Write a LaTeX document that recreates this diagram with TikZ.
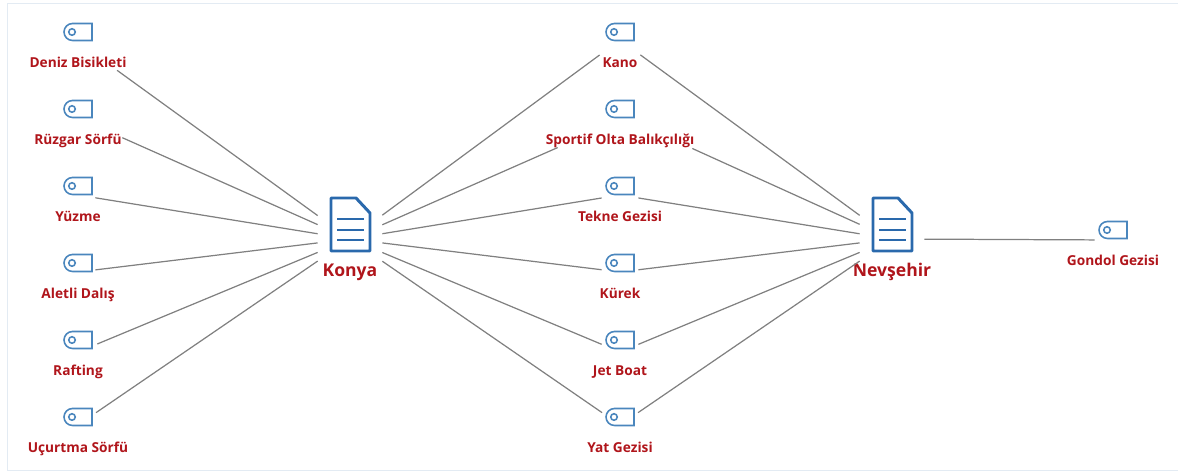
\documentclass[tikz,border=0pt]{standalone}
\usepackage{fontspec}
\setmainfont{Open Sans}
\usepackage{tikz}
\usetikzlibrary{shapes.misc, calc, positioning}
\definecolor{tagblue}{HTML}{4A86BD}
\definecolor{docblue}{HTML}{2A69AC}
\definecolor{namered}{HTML}{B0151B}
\definecolor{linkgray}{HTML}{808080}
\definecolor{framegray}{HTML}{E3EBF3}
\tikzstyle{tag} = [rounded rectangle, rounded rectangle right arc=none, draw=tagblue, line width=0.9pt, minimum width=0.56cm, minimum height=0.34cm, inner sep=0pt, path picture={\draw [tagblue, line width=0.9pt] ($(path picture bounding box.west)+(0.16cm,0)$) circle (0.065cm);}]
\tikzstyle{itemname} = [font=\bfseries\fontsize{7.8}{9}\selectfont, text=namered, inner sep=0pt, text height=8.2pt, text depth=1.4pt]
\tikzstyle{hubname} = [font=\bfseries\fontsize{10}{12}\selectfont, text=namered, inner sep=0pt]
\tikzstyle{area} = [rectangle, inner sep=0pt]
\tikzstyle{hub} = [area, minimum width=1.28cm, minimum height=1.28cm]
\tikzstyle{link} = [linkgray, line width=0.7pt]
\tikzstyle{doc} = [docblue, line width=1.7pt]
\begin{document}
\begin{tikzpicture}[x=0.02cm, y=-0.02cm]
	\useasboundingbox (0,0) rectangle (1178,472);
	\draw [framegray, line width=0.5pt] (1178,3) -- (7,3) -- (7,470.5) -- (1178,470.5);
	% left column
	\node (DenizIcon) [tag] at (78,32) {};
	\node (DenizName) [itemname] at (78,62) {Deniz Bisikleti};
	\node (Deniz) [area, minimum width=1.6cm, minimum height=1.12cm] at (78,42) {};
	\node (RuzgarIcon) [tag] at (78,109) {};
	\node (RuzgarName) [itemname] at (78,139) {Rüzgar Sörfü};
	\node (Ruzgar) [area, minimum width=1.76cm, minimum height=0.8cm] at (78,118) {};
	\node (YuzmeIcon) [tag] at (78,186) {};
	\node (YuzmeName) [itemname] at (78,216) {Yüzme};
	\node (Yuzme) [area, minimum width=0.68cm, minimum height=0.4cm] at (78,195) {};
	\node (AletliIcon) [tag] at (78,263) {};
	\node (AletliName) [itemname] at (78,293) {Aletli Dalış};
	\node (Aletli) [area, minimum width=0.68cm, minimum height=0.4cm] at (78,272) {};
	\node (RaftingIcon) [tag] at (78,340) {};
	\node (RaftingName) [itemname] at (78,370) {Rafting};
	\node (Rafting) [area, minimum width=0.76cm, minimum height=0.4cm] at (78,352) {};
	\node (UcurtmaIcon) [tag] at (78,417) {};
	\node (UcurtmaName) [itemname] at (78,447) {Uçurtma Sörfü};
	\node (Ucurtma) [area, minimum width=0.76cm, minimum height=0.48cm] at (78,425) {};
	% middle column
	\node (KanoIcon) [tag] at (620,32) {};
	\node (KanoName) [itemname] at (620,62) {Kano};
	\node (Kano) [area, minimum width=0.8cm, minimum height=0.6cm] at (620,40) {};
	\node (SportifIcon) [tag] at (620,109) {};
	\node (SportifName) [itemname] at (620,139) {Sportif Olta Balıkçılığı};
	\node (Sportif) [area, minimum width=2.68cm, minimum height=1.3cm] at (625,118) {};
	\node (TekneIcon) [tag] at (620,186) {};
	\node (TekneName) [itemname] at (620,216) {Tekne Gezisi};
	\node (Tekne) [area, minimum width=0.72cm, minimum height=0.4cm] at (620,195) {};
	\node (KurekIcon) [tag] at (620,263) {};
	\node (KurekName) [itemname] at (620,293) {Kürek};
	\node (Kurek) [area, minimum width=0.72cm, minimum height=0.4cm] at (620,272) {};
	\node (JetIcon) [tag] at (620,340) {};
	\node (JetName) [itemname] at (620,370) {Jet Boat};
	\node (Jet) [area, minimum width=0.72cm, minimum height=0.4cm] at (620,352) {};
	\node (YatIcon) [tag] at (620,417) {};
	\node (YatName) [itemname] at (620,447) {Yat Gezisi};
	\node (Yat) [area, minimum width=0.72cm, minimum height=0.48cm] at (620,425) {};
	% right side
	\node (GondolIcon) [tag] at (1113,230) {};
	\node (GondolName) [itemname] at (1113,260) {Gondol Gezisi};
	\node (Gondol) [area, minimum width=0.72cm, minimum height=0.4cm] at (1113,240) {};
	% documents
	\node (Konya) [hub] at (350,239) {};
	\node (KonyaName) [hubname] at (350,272) {Konya};
	\node (Nevsehir) [hub] at (892,239) {};
	\node (NevsehirName) [hubname] at (892,272) {Nevşehir};
	\draw [doc, line join=round] (331,198) -- (356,198) -- (370,213) -- (370,251) -- (331,251) -- cycle;
	\draw [doc] (337,219) -- (364,219) (337,230) -- (364,230) (337,240) -- (364,240);
	\draw [doc, line join=round] (873,198) -- (898,198) -- (912,213) -- (912,251) -- (873,251) -- cycle;
	\draw [doc] (879,219) -- (906,219) (879,230) -- (906,230) (879,240) -- (906,240);
	% connectors
	\draw [link] (Konya) -- (Deniz);
	\draw [link] (Konya) -- (Ruzgar);
	\draw [link] (Konya) -- (Yuzme);
	\draw [link] (Konya) -- (Aletli);
	\draw [link] (Konya) -- (Rafting);
	\draw [link] (Konya) -- (Ucurtma);
	\draw [link] (Konya) -- (Kano);
	\draw [link] (Konya) -- (Sportif);
	\draw [link] (Konya) -- (Tekne);
	\draw [link] (Konya) -- (Kurek);
	\draw [link] (Konya) -- (Jet);
	\draw [link] (Konya) -- (Yat);
	\draw [link] (Nevsehir) -- (Kano);
	\draw [link] (Nevsehir) -- (Sportif);
	\draw [link] (Nevsehir) -- (Tekne);
	\draw [link] (Nevsehir) -- (Kurek);
	\draw [link] (Nevsehir) -- (Jet);
	\draw [link] (Nevsehir) -- (Yat);
	\draw [link] (Nevsehir) -- (Gondol);
\end{tikzpicture}
\end{document}
